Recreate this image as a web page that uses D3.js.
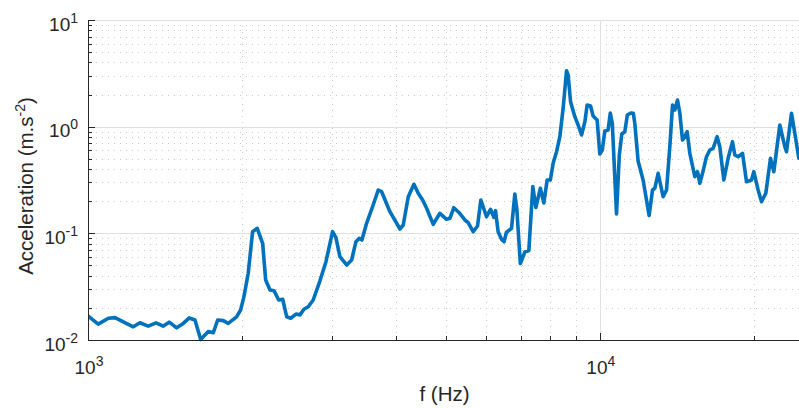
<!DOCTYPE html>
<html>
<head>
<meta charset="utf-8">
<script src="https://cdn.jsdelivr.net/npm/d3@7"></script>
<style>
  html, body { margin: 0; padding: 0; background: #ffffff; }
  svg { display: block; font-family: "Liberation Sans", Arial, Helvetica, sans-serif; }
</style>
</head>
<body>
<svg id="chart" width="799" height="408"></svg>
<script>
// Acceleration spectrum: frequency (Hz) and acceleration amplitude (m.s^-2)
const freqHz = [
  1000,1047,1096,1129,1172,1226,1263,1311,1358,1403,
  1441,1490,1535,1577,1618,1660,1718,1757,1792,1838,
  1879,1951,1987,2017,2056,2097,2141,2194,2224,2268,
  2309,2358,2401,2445,2489,2549,2595,2642,2693,2754,
  2838,2916,3005,3050,3106,3201,3274,3338,3388,3429,
  3502,3598,3690,3747,3890,4069,4130,4224,4333,4418,
  4506,4588,4726,4870,5019,5094,5186,5311,5449,5531,
  5656,5769,5855,6007,6116,6208,6255,6329,6427,6502,
  6567,6722,6823,6884,6994,7137,7266,7398,7499,7652,
  7774,7890,8005,8106,8231,8354,8479,8610,8672,8766,
  8937,9071,9211,9349,9446,9591,9703,9880,10000,10113,
  10227,10380,10483,10578,10780,10917,11040,11190,11317,11497,
  11627,11705,11880,12150,12483,12675,12807,12999,13295,13500,
  13702,13869,14013,14185,14333,14508,14659,14812,14992,15333,
  15520,15681,15873,16161,16403,16649,16951,17158,17470,17810,
  18166,18355,18630,19002,19347,19787,19993,20384,20698,21103,
  21553,21876,22474,22985,23161,23687,24042,24479
];
const accel = [
  0.0168,0.0141,0.0160,0.0162,0.0148,0.0133,0.0145,0.0135,0.0145,0.0135,
  0.0147,0.0130,0.0143,0.0161,0.0154,0.0101,0.0120,0.0117,0.0154,0.0152,
  0.0143,0.0165,0.0191,0.0255,0.0422,0.1036,0.1115,0.0807,0.0365,0.0294,
  0.0290,0.0237,0.0241,0.0165,0.0160,0.0175,0.0172,0.0194,0.0205,0.0237,
  0.0357,0.0539,0.1036,0.0918,0.0604,0.0505,0.0562,0.0835,0.0898,0.0866,
  0.1242,0.1777,0.2548,0.2456,0.1595,0.1098,0.1197,0.2205,0.2882,0.2373,
  0.2054,0.1717,0.1215,0.1541,0.1354,0.1383,0.1739,0.1561,0.1334,0.1258,
  0.1036,0.1171,0.2054,0.1432,0.1680,0.1413,0.1630,0.1036,0.0879,0.0835,
  0.1018,0.1115,0.2337,0.1691,0.0521,0.0668,0.0690,0.2749,0.1747,0.2644,
  0.1925,0.3162,0.3162,0.4535,0.5826,0.805,1.486,3.347,3.050,1.714,
  1.240,1.037,0.835,1.113,1.596,1.562,1.259,1.155,0.554,0.604,
  0.911,0.930,1.343,1.075,0.1518,0.5426,0.8537,0.897,1.286,1.343,
  1.335,1.071,0.4766,0.3162,0.1470,0.2548,0.2644,0.3654,0.2205,0.2548,
  0.649,1.596,1.433,1.778,1.335,0.750,0.805,0.897,0.5627,0.3396,
  0.3782,0.2944,0.3654,0.5229,0.604,0.627,0.805,0.649,0.3162,0.5052,
  0.723,0.5426,0.5229,0.5627,0.3048,0.3162,0.3782,0.2548,0.1980,0.2373,
  0.5052,0.3782,1.037,0.649,0.5826,1.335,0.867,0.5052
];

// Axis limits and ticks
const xDomain = [1000, 24500];
const yDomain = [0.01, 10];
const xMajorTicks = [1000, 10000];
const xTickExponents = ["3", "4"];
const xMinorTicks = [2000, 3000, 4000, 5000, 6000, 7000, 8000, 9000, 20000];
const yMajorTicks = [0.01, 0.1, 1, 10];
const yTickExponents = ["-2", "-1", "0", "1"];
const yMinorTicks = [
  0.02, 0.03, 0.04, 0.05, 0.06, 0.07, 0.08, 0.09,
  0.2, 0.3, 0.4, 0.5, 0.6, 0.7, 0.8, 0.9,
  2, 3, 4, 5, 6, 7, 8, 9
];
const xLabel = "f (Hz)";

const plot = { left: 88, right: 799, top: 20, bottom: 340 };
const ink = "#262626";

const svg = d3.select("#chart");
const x = d3.scaleLog().domain(xDomain).range([plot.left, plot.right]);
const y = d3.scaleLog().domain(yDomain).range([plot.bottom, plot.top]);
const px = v => Math.round(v) + 0.5;

// Grid: dotted minor lines, solid major lines
const grid = svg.append("g");
grid.selectAll("line.ymin").data(yMinorTicks).join("line")
  .attr("x1", plot.left + 2).attr("x2", plot.right)
  .attr("y1", d => px(y(d))).attr("y2", d => px(y(d)))
  .attr("stroke", "#cdcdcd").attr("stroke-width", 1).attr("stroke-dasharray", "1,5");
grid.selectAll("line.xmin").data(xMinorTicks).join("line")
  .attr("y1", plot.top).attr("y2", plot.bottom - 2)
  .attr("x1", d => px(x(d))).attr("x2", d => px(x(d)))
  .attr("stroke", "#cdcdcd").attr("stroke-width", 1).attr("stroke-dasharray", "1,5");
grid.selectAll("line.ymaj").data(yMajorTicks.filter(d => d > yDomain[0])).join("line")
  .attr("x1", plot.left).attr("x2", plot.right)
  .attr("y1", d => px(y(d))).attr("y2", d => px(y(d)))
  .attr("stroke", "#e0e0e0").attr("stroke-width", 1);
grid.selectAll("line.xmaj").data(xMajorTicks.filter(d => d > xDomain[0])).join("line")
  .attr("y1", plot.top).attr("y2", plot.bottom)
  .attr("x1", d => px(x(d))).attr("x2", d => px(x(d)))
  .attr("stroke", "#e0e0e0").attr("stroke-width", 1);

// Spectrum line
svg.append("defs").append("clipPath").attr("id", "plotClip")
  .append("rect").attr("x", plot.left).attr("y", plot.top - 2)
  .attr("width", plot.right - plot.left).attr("height", plot.bottom - plot.top + 4);

const series = freqHz.map((f, i) => [f, accel[i]]);
svg.append("path")
  .datum(series)
  .attr("clip-path", "url(#plotClip)")
  .attr("fill", "none")
  .attr("stroke", "#0072BD")
  .attr("stroke-width", 3.6)
  .attr("stroke-linejoin", "round")
  .attr("stroke-linecap", "round")
  .attr("d", d3.line().x(d => x(d[0])).y(d => y(d[1])));

// Axes lines
const axes = svg.append("g").attr("stroke", ink).attr("stroke-width", 1);
axes.append("line").attr("x1", px(plot.left)).attr("x2", px(plot.left))
  .attr("y1", plot.top).attr("y2", px(plot.bottom));
axes.append("line").attr("x1", plot.left).attr("x2", plot.right)
  .attr("y1", px(plot.bottom)).attr("y2", px(plot.bottom));

// Inward ticks
axes.selectAll("line.ytmaj").data(yMajorTicks).join("line")
  .attr("x1", plot.left).attr("x2", plot.left + 7)
  .attr("y1", d => px(y(d))).attr("y2", d => px(y(d)));
axes.selectAll("line.ytmin").data(yMinorTicks).join("line")
  .attr("x1", plot.left).attr("x2", plot.left + 4)
  .attr("y1", d => px(y(d))).attr("y2", d => px(y(d)));
axes.selectAll("line.xtmaj").data(xMajorTicks).join("line")
  .attr("y1", plot.bottom).attr("y2", plot.bottom - 7)
  .attr("x1", d => px(x(d))).attr("x2", d => px(x(d)));
axes.selectAll("line.xtmin").data(xMinorTicks).join("line")
  .attr("y1", plot.bottom).attr("y2", plot.bottom - 4)
  .attr("x1", d => px(x(d))).attr("x2", d => px(x(d)));

// Tick labels as powers of ten
function powerLabel(sel, exp) {
  sel.append("tspan").text("10");
  sel.append("tspan").attr("dy", -8).attr("font-size", 14).text(exp);
}
yMajorTicks.forEach((t, i) => {
  const txt = svg.append("text")
    .attr("x", 78).attr("y", y(t) + 10.5)
    .attr("text-anchor", "end").attr("font-size", 19).attr("fill", ink);
  powerLabel(txt, yTickExponents[i]);
});
xMajorTicks.forEach((t, i) => {
  const txt = svg.append("text")
    .attr("x", x(t) + 1).attr("y", 374)
    .attr("text-anchor", "middle").attr("font-size", 19).attr("fill", ink);
  powerLabel(txt, xTickExponents[i]);
});

// Axis titles
svg.append("text")
  .attr("x", (plot.left + plot.right) / 2 + 1).attr("y", 401)
  .attr("text-anchor", "middle").attr("font-size", 20.5).attr("fill", ink)
  .text(xLabel);

const yl = svg.append("text")
  .attr("transform", "translate(33,186) rotate(-90)")
  .attr("text-anchor", "middle").attr("font-size", 20.5).attr("fill", ink);
yl.append("tspan").text("Acceleration (m.s");
yl.append("tspan").attr("dy", -8).attr("font-size", 14).text("-2");
yl.append("tspan").attr("dy", 8).text(")");
</script>
</body>
</html>
